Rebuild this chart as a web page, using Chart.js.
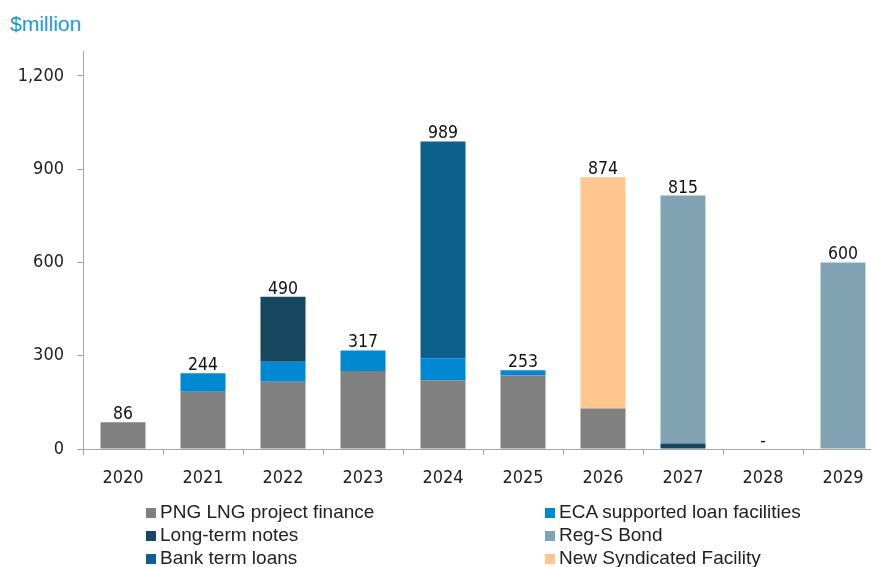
<!DOCTYPE html>
<html>
<head>
<meta charset="utf-8">
<script src="https://cdn.jsdelivr.net/npm/chart.js@4.4.1/dist/chart.umd.min.js"></script>
<style>
  body { margin: 0; overflow: hidden; width: 871px; height: 567px; position: relative; background: #fff; }
  #unit { position: absolute; left: 10px; top: 12px; font: 21px "Liberation Sans", Arial, sans-serif; color: #1a9ad6; }
  #chart { position: absolute; left: 0; top: 0; }
  .lg { position: absolute; font: 19px "Liberation Sans", Arial, sans-serif; color: #222; white-space: nowrap; line-height: 22px; }
  .lg i { display: inline-block; width: 10px; height: 10px; margin-right: 4px; vertical-align: 0px; }
</style>
</head>
<body>
<div id="unit">$million</div>
<canvas id="chart" width="884" height="567"></canvas>
<div id="legend"></div>
<script>
const years = ["2020", "2021", "2022", "2023", "2024", "2025", "2026", "2027", "2028", "2029"];
const pngLng = [86, 184, 216, 251, 221, 236, 130, 0, 0, 0];
const eca = [0, 60, 65, 66, 71, 17, 0, 0, 0, 0];
const longTermNotes = [0, 0, 209, 0, 0, 0, 0, 18, 0, 0];
const bankTermLoans = [0, 0, 0, 0, 697, 0, 0, 0, 0, 0];
const regSBond = [0, 0, 0, 0, 0, 0, 0, 797, 0, 600];
const newSyndicated = [0, 0, 0, 0, 0, 0, 744, 0, 0, 0];
const yTicks = [0, 300, 600, 900, 1200];

const series = [
  { label: "PNG LNG project finance", data: pngLng, color: "#808080" },
  { label: "ECA supported loan facilities", data: eca, color: "#0089d0" },
  { label: "Long-term notes", data: longTermNotes, color: "#17465f" },
  { label: "Bank term loans", data: bankTermLoans, color: "#0d5f8c" },
  { label: "Reg-S Bond", data: regSBond, color: "#81a3b4" },
  { label: "New Syndicated Facility", data: newSyndicated, color: "#ffc68f" },
];
// legend reads row by row, two columns
const legendOrder = [0, 1, 2, 4, 3, 5];

const tickFont = { family: "'DejaVu Sans Condensed', 'DejaVu Sans', sans-serif", size: 18 };

const totalsPlugin = {
  id: "totals",
  afterDatasetsDraw(chart) {
    const { ctx, scales } = chart;
    ctx.save();
    ctx.font = "17.5px 'DejaVu Sans Condensed', 'DejaVu Sans', sans-serif";
    ctx.fillStyle = "#111";
    ctx.textAlign = "center";
    ctx.textBaseline = "alphabetic";
    years.forEach((y, i) => {
      const total = series.reduce((s, d) => s + d.data[i], 0);
      const x = scales.x.getPixelForValue(i);
      const py = scales.y.getPixelForValue(total) - 3;
      ctx.fillText(total === 0 ? "-" : total.toLocaleString("en-US"), x, py);
    });
    ctx.restore();
  },
};

new Chart(document.getElementById("chart"), {
  type: "bar",
  data: {
    labels: years,
    datasets: series.map((s) => ({
      label: s.label,
      data: s.data,
      backgroundColor: s.color,
      borderWidth: 0,
      stack: "debt",
      barPercentage: 0.5625,
      categoryPercentage: 1,
    })),
  },
  options: {
    responsive: false,
    animation: false,
    layout: { padding: { top: 51, right: 1, left: 0, bottom: 0 } },
    plugins: { legend: { display: false }, tooltip: { enabled: false } },
    scales: {
      x: {
        stacked: true,
        afterFit: (scale) => { scale.height = 118; },
        grid: { offset: true, drawOnChartArea: false, tickLength: 6, color: "#a6a6a6" },
        border: { color: "#a6a6a6" },
        ticks: { font: tickFont, color: "#222", padding: 13, maxRotation: 0 },
      },
      y: {
        stacked: true,
        min: 0,
        max: 1280,
        afterFit: (scale) => { scale.width = 83; },
        afterBuildTicks: (scale) => { scale.ticks = yTicks.map((v) => ({ value: v })); },
        grid: { drawOnChartArea: false, tickLength: 6, color: "#a6a6a6" },
        border: { color: "#a6a6a6" },
        ticks: { autoSkip: false, font: tickFont, color: "#222", padding: 13, callback: (v) => v.toLocaleString("en-US") },
      },
    },
  },
  plugins: [totalsPlugin],
});

const legend = document.getElementById("legend");
legendOrder.forEach((idx, k) => {
  const s = series[idx];
  const el = document.createElement("div");
  el.className = "lg";
  el.style.left = (k % 2 === 0 ? 146 : 545) + "px";
  el.style.top = (501 + Math.floor(k / 2) * 23) + "px";
  el.innerHTML = '<i style="background:' + s.color + '"></i>' + s.label;
  legend.appendChild(el);
});
</script>
</body>
</html>
